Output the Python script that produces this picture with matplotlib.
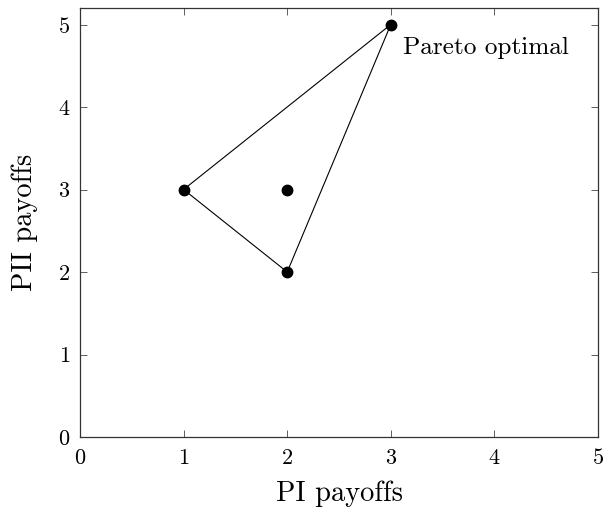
import matplotlib.pyplot as plt

# payoff points
px = [1, 2, 2, 3]
py = [3, 2, 3, 5]
# hull polygon
hull_x = [1, 3, 2, 1]
hull_y = [3, 5, 2, 3]
xticks = [0, 1, 2, 3, 4, 5]
yticks = [0, 1, 2, 3, 4, 5]

plt.rcParams['font.family'] = 'cmr10'
plt.rcParams['mathtext.fontset'] = 'cm'
plt.rcParams['axes.formatter.use_mathtext'] = True

fig = plt.figure(figsize=(6.04, 5.14), dpi=100)
ax = fig.add_axes([80 / 604, 1 - 437 / 514, 518 / 604, 429 / 514])

ax.plot(hull_x, hull_y, color='black', lw=0.8)
ax.plot(px, py, 'o', color='black', markersize=7.5)
ax.text(3.12, 4.72, 'Pareto optimal', fontsize=18.2, va='center', ha='left')

ax.set_xlim(0, 5)
ax.set_ylim(0, 5.2)
ax.set_xticks(xticks)
ax.set_yticks(yticks)
ax.tick_params(direction='in', top=True, right=True, length=5, width=0.6,
               labelsize=16, color='#444444')
ax.tick_params(axis='x', pad=8)
ax.tick_params(axis='y', pad=7)
for s in ax.spines.values():
    s.set_linewidth(0.9)
    s.set_color('#333333')

ax.set_xlabel('PI payoffs', fontsize=20.5, labelpad=9)
ax.set_ylabel('PII payoffs', fontsize=20.5, labelpad=14)

fig.savefig('out.png', dpi=100)
